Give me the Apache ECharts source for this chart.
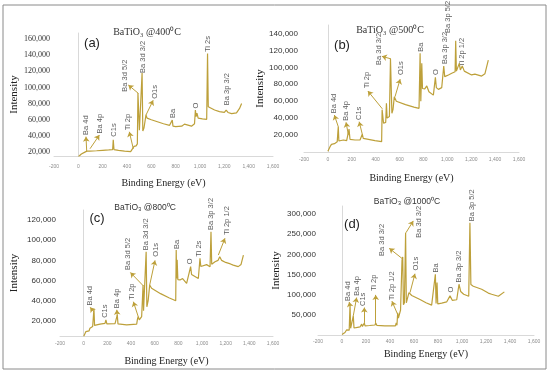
<!DOCTYPE html>
<html><head><meta charset="utf-8">
<script src="https://cdn.jsdelivr.net/npm/echarts@6/dist/echarts.min.js"></script>
<style>html,body{margin:0;padding:0;background:#fff}#c{width:550px;height:375px}</style>
</head><body><div id="c"></div>
<script>
// ---------- data ----------
const titles = ['BaTiO\u2083 @400\u2070C', 'BaTiO\u2083 @500\u2070C', 'BaTiO\u2083 @800\u2070C', 'BaTiO\u2083 @1000\u2070C'];
const panelLetters = ['(a)', '(b)', '(c)', '(d)'];
const xName = 'Binding Energy (eV)';
const yName = 'Intensity';

const yTicksA = [20000, 40000, 60000, 80000, 100000, 120000, 140000, 160000];
const yTicksB = [20000, 40000, 60000, 80000, 100000, 120000, 140000];
const yTicksC = [20000, 40000, 60000, 80000, 100000, 120000];
const yTicksD = [50000, 100000, 150000, 200000, 250000, 300000];

// (a) 400 C
const energyA = [0,15,25,35,50,60,70,80,95,150,200,250,282,287,293,330,380,430,445,458,465,475,485,490,498,502,512,524,530,540,556,565,600,650,700,750,765,772,778,800,850,872,885,930,955,962,968,975,985,1020,1055,1062,1068,1080,1120,1160,1200,1215,1230,1260,1300,1325,1342];
const intensityA = [14000,15500,17500,16500,19500,18000,21000,19000,21000,21500,22000,22500,23000,35000,23000,22000,21000,20500,22500,27000,25000,27500,30000,93000,95000,47000,48000,118000,46000,50000,66000,62000,60000,57500,55000,53000,53000,59500,52000,51500,52000,54500,53000,52000,55000,72000,64000,68000,62000,61000,60500,142000,76000,74000,72000,70000,69000,72000,69000,67500,68500,74000,80000];
const labelsA = [[63,41000,'Ba 4d'],[178,43000,'Ba 4p'],[296,39000,'C1s'],[411,47000,'Ti 2p'],[384,94700,'Ba 3d 5/2'],[529,118000,'Ba 3d 3/2'],[630,86000,'O1s'],[781,62000,'Ba'],[967,74000,'O'],[1063,144000,'Ti 2s'],[1219,78000,'Ba 3p 3/2']];
const arrowsA = [[69,20500,63,39000],[96,24000,173,41000],[452,24000,419,45000],[493,92700,411,103000],[556,65800,615,84000]];

// (b) 500 C
const energyB = [0,18,30,37,45,55,65,78,87,92,100,129,157,170,177,185,193,227,269,280,288,296,307,394,450,454,460,466,472,484,490,496,506,515,524,530,536,545,556,573,650,720,763,772,778,786,792,811,828,846,883,900,908,925,953,970,978,1009,1037,1065,1070,1076,1100,1109,1125,1142,1203,1231,1287,1315,1343];
const intensityB = [1000,6300,9000,8500,10500,9800,11500,12000,30000,13000,12500,14200,13400,14000,27000,15000,14900,14200,14200,15500,21000,16000,14900,13400,12200,50000,51600,34000,33900,35000,57500,40000,39800,42000,110000,110600,45700,50000,65300,60000,56000,53000,51600,116500,60000,104700,75000,74500,78000,71200,67200,88200,76000,74000,76000,101500,89000,91000,93000,94700,131400,95500,104700,97000,101500,95500,91000,92000,89700,92500,108600];
const labelsB = [[48,45700,'Ba 4d'],[152,37000,'Ba 4p'],[260,37800,'C1s'],[330,75200,'Ti 2p'],[430,102700,'Ba 3d 3/2'],[612,90900,'O1s'],[777,118400,'Ba'],[905,90900,'O'],[980,103900,'Ba 3p 3/2'],[1008,140500,'Ba 3p 5/2'],[1125,100700,'Ti 2p 1/2']];
const arrowsB = [[87,29900,54,43700],[172,20000,152,35000],[288,21000,262,35800],[456,51000,335,72000],[528,110000,452,113000],[562,65300,605,86000]];

// (c) 800 C
const energyC = [0,19,35,45,53,65,76,87,92,98,138,180,188,196,209,265,280,284,290,301,363,420,448,455,461,470,480,490,498,502,506,512,528,534,545,558,574,650,720,778,782,786,790,796,814,836,870,904,912,921,969,983,990,1039,1068,1076,1082,1110,1135,1150,1166,1200,1240,1264,1280,1306,1330,1350];
const intensityC = [4500,9400,11000,10000,12700,12000,14400,32000,15500,16000,16700,17500,21000,17000,16700,17300,17500,26000,17000,16000,16000,16500,16700,22000,24300,21000,22000,24300,26000,55600,30000,29000,88600,34000,40000,55600,52300,47000,43000,40000,90300,62000,80500,61000,60600,62000,57300,73800,66000,65500,62000,82100,74000,75800,73800,108400,76200,78600,80000,83700,80000,78000,76500,75300,76000,73800,76000,85300];
const labelsC = [[53,35200,'Ba 4d'],[180,23000,'C1s'],[279,32600,'Ba 4p'],[411,40800,'Ti 2p'],[377,70500,'Ba 3d 5/2'],[524,90000,'Ba 3d 3/2'],[611,83700,'O1s'],[786,91300,'Ba'],[898,76100,'O'],[977,83700,'Ti 2s'],[1076,110100,'Ba 3p 3/2'],[1208,105100,'Ti 2p 1/2']];
const arrowsC = [[85,29000,55,33500],[284,25000,280,31000],[461,24300,420,39000],[502,55000,395,68000],[558,55600,603,80000],[1138,85300,1194,101900]];

// (d) 1000 C
const energyD = [0,25,39,53,60,67,72,85,94,100,130,150,164,170,186,192,230,275,281,290,358,445,452,458,464,470,478,488,500,506,512,520,530,536,545,558,581,650,700,747,778,784,792,798,831,872,900,919,956,975,989,1014,1056,1066,1074,1094,1164,1219,1233,1247,1303,1353];
const intensityD = [1000,6200,12900,8000,12000,76500,16500,18000,47500,17300,19000,20000,27000,21000,30000,22500,23500,24800,30000,24000,22800,22800,30000,24000,55000,42000,45000,62000,185000,193500,75000,80000,253700,80000,90000,105200,98000,88000,80000,74000,150700,78000,130000,77000,79000,82000,97000,86000,87500,125900,108000,101000,96000,278400,125000,121000,113600,104000,107000,101000,96000,107000];
const labelsD = [[53,84600,'Ba 4d'],[128,97500,'Ba 4p'],[178,72000,'C1s'],[269,109000,'Ti 2p'],[414,86000,'Ti 2p 1/2'],[331,196000,'Ba 3d 3/2'],[644,241000,'Ba 3d 3/2'],[617,160000,'O1s'],[783,155000,'Ba'],[906,105200,'O'],[972,130000,'Ba 3p 3/2'],[1081,282000,'Ba 3p 5/2']];
const arrowsD = [[67,72000,60,82000],[94,47500,122,92800],[186,30000,186,68000],[281,30000,281,99500],[469,47500,416,84000],[500,190000,394,215000],[533,253700,594,283000],[567,105200,608,152000]];

// ---------- layout ----------
const lineColor = '#BDA03A';
const panels = [
  {e:energyA, v:intensityA, lab:labelsA, arr:arrowsA, ticks:yTicksA, ymin:15000, ymax:167500,
   grid:{left:54, right:277, top:33, bottom:219}, xMargin:8, yMargin:4, xGap:22, yGap:34,
   title:[147,32,'10px "Liberation Serif"'], letter:[92,43], yFont:'Liberation Serif'},
  {e:energyB, v:intensityB, lab:labelsB, arr:arrowsB, ticks:yTicksB, ymin:0, ymax:150000,
   grid:{left:304, right:31, top:25, bottom:223}, xMargin:5, yMargin:6, xGap:21, yGap:34,
   title:[390,30,'10px "Liberation Serif"'], letter:[342,45], yFont:'Liberation Sans'},
  {e:energyC, v:intensityC, lab:labelsC, arr:arrowsC, ticks:yTicksC, ymin:5000, ymax:130000,
   grid:{left:60, right:277, top:210, bottom:39}, xMargin:5, yMargin:4, xGap:20, yGap:40,
   title:[145,208,'8.5px "Liberation Sans"'], letter:[97,218], yFont:'Liberation Sans'},
  {e:energyD, v:intensityD, lab:labelsD, arr:arrowsD, ticks:yTicksD, ymin:0, ymax:320000,
   grid:{left:318, right:16, top:206, bottom:40}, xMargin:4, yMargin:2, xGap:14, yGap:36,
   title:[407,202,'8.5px "Liberation Sans"'], letter:[352,224], yFont:'Liberation Sans'}
];

const grids = [], xAxes = [], yAxes = [], series = [], graphics = [];
graphics.push({type:'rect', shape:{x:3, y:5, width:543, height:364}, style:{fill:'none', stroke:'#8a8a8a', lineWidth:1}, silent:true});

panels.forEach((p, i) => {
  grids.push(Object.assign({containLabel:false}, p.grid));
  xAxes.push({
    type:'value', gridIndex:i, min:-200, max:1600, interval:200,
    name:xName, nameLocation:'middle', nameGap:p.xGap,
    nameTextStyle:{fontFamily:'Liberation Serif', fontSize:10, color:'#222'},
    axisLine:{show:true, onZero:false, lineStyle:{color:'#D9D9D9', width:1}},
    axisTick:{show:false}, splitLine:{show:false},
    axisLabel:{fontSize:5, color:'#8c8c8c', margin:p.xMargin, fontFamily:'Liberation Sans'}
  });
  yAxes.push({
    type:'value', gridIndex:i, min:p.ymin, max:p.ymax,
    name:yName, nameLocation:'middle', nameGap:p.yGap,
    nameTextStyle:{fontFamily:'Liberation Serif', fontSize:11, color:'#222'},
    axisLine:{show:true, lineStyle:{color:'#D9D9D9', width:1}},
    axisTick:{show:false}, splitLine:{show:false},
    axisLabel:{customValues:p.ticks, fontSize:8, color:'#333', margin:p.yMargin, fontFamily:p.yFont,
      formatter:v => Number(v).toLocaleString('en-US')}
  });
  series.push({
    type:'line', xAxisIndex:i, yAxisIndex:i, showSymbol:false, symbol:'none',
    data:p.e.map((x, k) => [x, p.v[k]]),
    lineStyle:{color:lineColor, width:1.2}, silent:true
  });
  series.push({
    type:'scatter', xAxisIndex:i, yAxisIndex:i, symbolSize:0, silent:true,
    data:p.lab,
    label:{show:true, position:'inside', rotate:90, align:'left', verticalAlign:'middle',
      formatter:q => q.data[2], fontSize:7.5, color:'#333', fontFamily:'Liberation Sans'},
    markLine:{silent:true, symbol:['none','arrow'], symbolSize:5, animation:false,
      lineStyle:{color:lineColor, width:1, type:'solid'}, label:{show:false},
      data:p.arr.map(a => [{coord:[a[0], a[1]]}, {coord:[a[2], a[3]]}])}
  });
  graphics.push({type:'text', x:p.title[0], y:p.title[1], silent:true,
    style:{text:titles[i], font:p.title[2], fill:'#333', align:'center', verticalAlign:'middle', textAlign:'center', textVerticalAlign:'middle'}});
  graphics.push({type:'text', x:p.letter[0], y:p.letter[1], silent:true,
    style:{text:panelLetters[i], font:'13px "Liberation Sans"', fill:'#222', align:'center', verticalAlign:'middle', textAlign:'center', textVerticalAlign:'middle'}});
});

const chart = echarts.init(document.getElementById('c'), null, {renderer:'canvas'});
chart.setOption({animation:false, backgroundColor:'#fff', grid:grids, xAxis:xAxes, yAxis:yAxes, series:series, graphic:graphics});
</script></body></html>
